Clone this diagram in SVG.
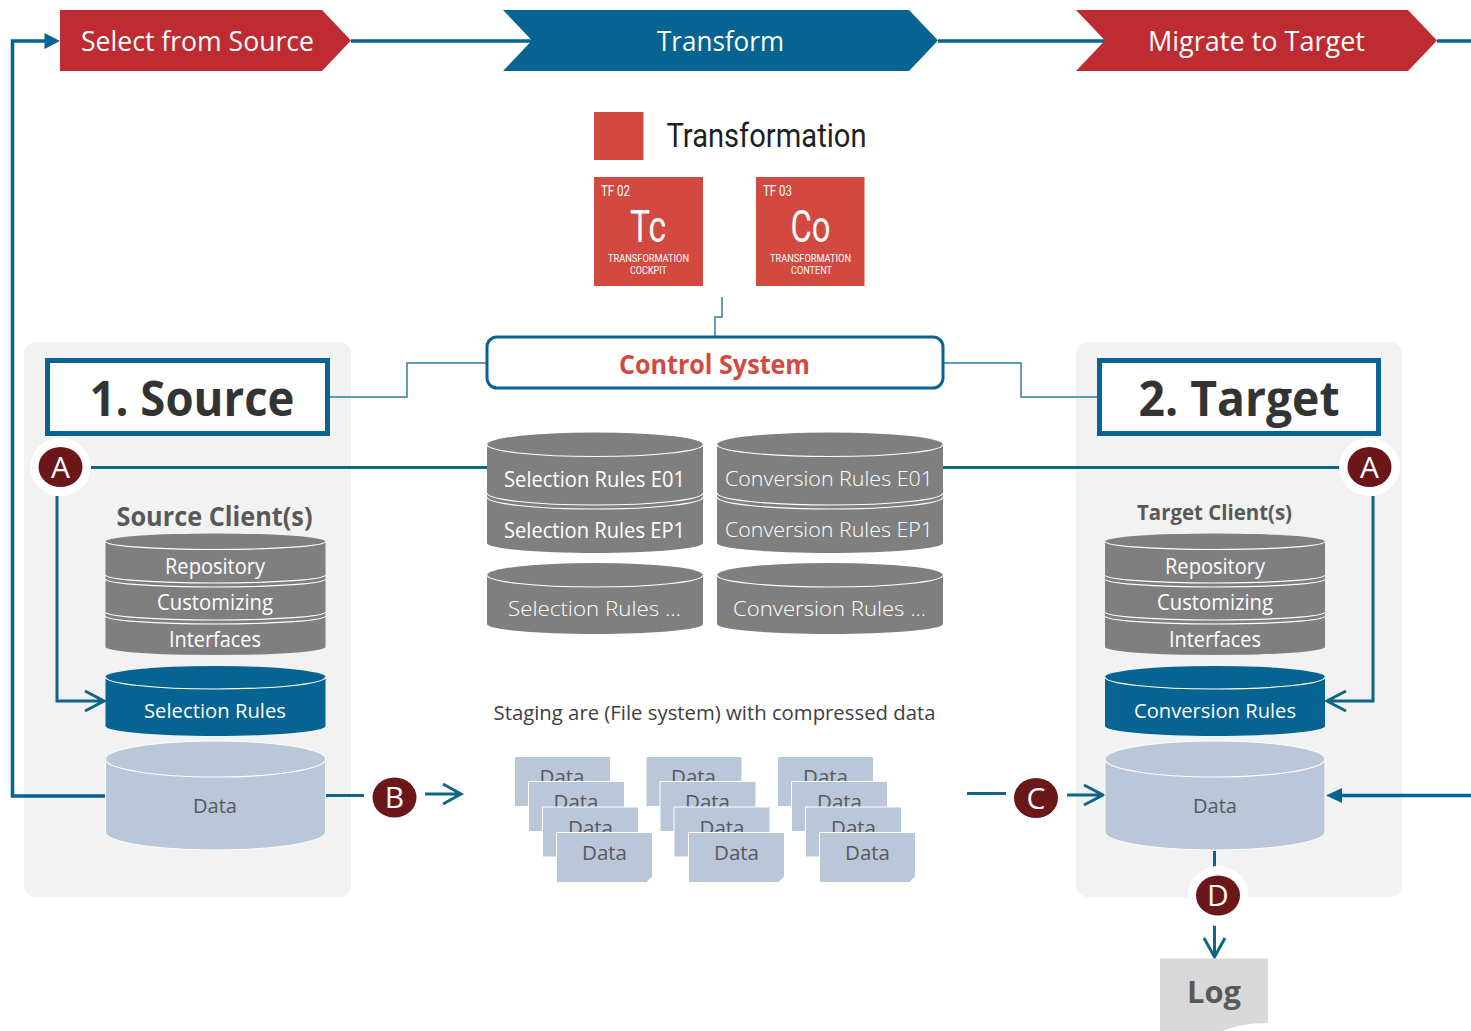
<svg xmlns="http://www.w3.org/2000/svg" width="1471" height="1031" viewBox="0 0 1471 1031">
<style>
text{font-family:"Open Sans","Noto Sans","Liberation Sans",sans-serif;text-anchor:middle}
.cond{font-family:Roboto,"Liberation Sans",sans-serif}
.w{fill:#fff}.g{fill:#595959}.l{font-weight:300}
.red{fill:#BE2B31}.blue{fill:#066392}.tile{fill:#D24A3F}
.grey{fill:#7F7F7F}.dblue{fill:#066392}.pale{fill:#B9C7D9;stroke:#fff;stroke-width:1}
.arc{fill:none;stroke:#fff;stroke-width:1.2}
.panel{fill:#F2F2F2}
.hbox{fill:#fff;stroke:#066392;stroke-width:5}
.c3{fill:none;stroke:#066392;stroke-width:3.500}
.c2{fill:none;stroke:#0E6585;stroke-width:3}
.c1{fill:none;stroke:#2F7FA3;stroke-width:1.500}
.head{fill:#066392;stroke:none}
.halo{fill:#fff}.dot{fill:#6B1619}
.sheet{fill:#B9C7D9;stroke:#fff;stroke-width:1}
.b{font-weight:700}
</style>
<defs>
<path id="sh" d="M-.5 -.5H95.500V43.500L89.500 49.500H-.5Z" class="sheet"/>
</defs>

<g id="panel-source"><rect class="panel" x="24" y="342" width="327" height="555" rx="12"/></g>
<g id="panel-target"><rect class="panel" x="1076" y="342" width="326" height="555" rx="12"/></g>

<g id="connectors">
<path class="c3" d="M351 41H532M938 41H1105M1437 41H1471"/>
<path class="c3" d="M105 796H12.500V41H46"/>
<polygon class="head" points="44.500,33 60,41 44.500,49"/>
<path class="c1" d="M722 297V317H715V337"/>
<path class="c1" d="M330 397H407V363H487M943 363H1021V397H1097"/>
<path class="c2" d="M91 467.500H487M943 467.500H1340"/>
<path class="c2" d="M57 496V701H103M85 691L104 701L85 711"/>
<path class="c2" d="M1373 496V701H1327M1346 691L1327 701L1346 711"/>
<path class="c2" d="M326 795.500H364M425 794H460M443 784L461 794L443 804"/>
<path class="c2" d="M967 793.500H1006M1067 795H1102M1084 785L1103 795L1084 805"/>
<path class="c3" d="M1471 795.500H1340"/>
<polygon class="head" points="1326,795.500 1342,788 1342,803"/>
<path class="c2" d="M1214.500 851V867M1214.500 925V956M1204 938L1214.500 957L1225 938"/>
</g>

<g id="step-select"><polygon class="red" points="60,10 322,10 351,40.500 322,71 60,71"/><text class="w" x="197.500" y="51" font-size="27" textLength="233" lengthAdjust="spacingAndGlyphs">Select from Source</text></g>
<g id="step-transform"><polygon class="blue" points="503,10 909,10 938,40.500 909,71 503,71 532,40.500"/><text class="w" x="720.500" y="51" font-size="27" textLength="127" lengthAdjust="spacingAndGlyphs">Transform</text></g>
<g id="step-migrate"><polygon class="red" points="1076,10 1408,10 1437,40.500 1408,71 1076,71 1105,40.500"/><text class="w" x="1256.500" y="51" font-size="27" textLength="217" lengthAdjust="spacingAndGlyphs">Migrate to Target</text></g>

<g id="transformation-legend"><rect class="tile" x="594" y="112" width="49.500" height="48"/><text class="cond" x="766.500" y="147" font-size="33" fill="#1f1f1f" textLength="200" lengthAdjust="spacingAndGlyphs">Transformation</text></g>
<g id="tile-tc"><rect class="tile" x="594" y="177" width="109" height="109"/>
<text class="cond w" x="615.500" y="196" font-size="14" textLength="29" lengthAdjust="spacingAndGlyphs">TF 02</text>
<text class="cond w" x="648" y="242" font-size="44" textLength="36" lengthAdjust="spacingAndGlyphs">Tc</text>
<text class="cond w" x="648.500" y="262" font-size="11" textLength="81" lengthAdjust="spacingAndGlyphs">TRANSFORMATION</text>
<text class="cond w" x="648.500" y="274" font-size="11" textLength="37" lengthAdjust="spacingAndGlyphs">COCKPIT</text></g>
<g id="tile-co"><rect class="tile" x="756" y="177" width="108.500" height="109"/>
<text class="cond w" x="777.500" y="196" font-size="14" textLength="29" lengthAdjust="spacingAndGlyphs">TF 03</text>
<text class="cond w" x="810.500" y="242" font-size="44" textLength="40" lengthAdjust="spacingAndGlyphs">Co</text>
<text class="cond w" x="810.500" y="262" font-size="11" textLength="81" lengthAdjust="spacingAndGlyphs">TRANSFORMATION</text>
<text class="cond w" x="811.500" y="274" font-size="11" textLength="41" lengthAdjust="spacingAndGlyphs">CONTENT</text></g>

<g id="control-system"><rect x="487" y="337" width="456" height="51" rx="10" fill="#fff" stroke="#066392" stroke-width="3"/><text class="b" x="714.500" y="374" font-size="26" fill="#D24A3F" textLength="191" lengthAdjust="spacingAndGlyphs">Control System</text></g>

<g id="source-title"><rect class="hbox" x="47.500" y="360.500" width="280" height="73"/><text class="b" x="192" y="416" font-size="48" fill="#333" textLength="205" lengthAdjust="spacingAndGlyphs">1. Source</text></g>
<g id="target-title"><rect class="hbox" x="1099.500" y="360.500" width="279" height="73"/><text class="b" x="1239" y="416" font-size="48" fill="#333" textLength="201" lengthAdjust="spacingAndGlyphs">2. Target</text></g>

<g id="badge-a-left"><ellipse class="halo" cx="60.500" cy="467" rx="30.500" ry="29"/><ellipse class="dot" cx="60.500" cy="467" rx="22" ry="20"/><text class="w" x="60.500" y="478" font-size="30">A</text></g>
<g id="badge-a-right"><ellipse class="halo" cx="1369.500" cy="467" rx="30.500" ry="29"/><ellipse class="dot" cx="1369.500" cy="467" rx="22" ry="20"/><text class="w" x="1369.500" y="478" font-size="30">A</text></g>
<g id="badge-b"><ellipse class="dot" cx="394.500" cy="797.500" rx="22" ry="20"/><text class="w" x="394.500" y="808" font-size="30">B</text></g>
<g id="badge-c"><ellipse class="dot" cx="1036" cy="798" rx="22" ry="20"/><text class="w" x="1036" y="809" font-size="30">C</text></g>
<g id="badge-d"><ellipse class="halo" cx="1218" cy="896" rx="30.500" ry="30"/><ellipse class="dot" cx="1218" cy="895.500" rx="22" ry="20"/><text class="w" x="1218" y="906" font-size="30">D</text></g>

<g id="source-clients"><text class="b g" x="214.500" y="526" font-size="26" textLength="196" lengthAdjust="spacingAndGlyphs">Source Client(s)</text>
<path class="grey" d="M105.500 541.500A110 8 0 0 1 325.500 541.500V647A110 8 0 0 1 105.500 647Z"/>
<path class="arc" d="M105.500 541.500A110 8 0 0 0 325.500 541.500M105.500 575A110 8 0 0 0 325.500 575M105.500 579A110 8 0 0 0 325.500 579M105.500 612A110 8 0 0 0 325.500 612M105.500 616A110 8 0 0 0 325.500 616"/>
<text class="w" x="215" y="574" font-size="21.500" textLength="100" lengthAdjust="spacingAndGlyphs">Repository</text>
<text class="w" x="215" y="610" font-size="21.500" textLength="116" lengthAdjust="spacingAndGlyphs">Customizing</text>
<text class="w" x="215" y="647" font-size="21.500" textLength="92" lengthAdjust="spacingAndGlyphs">Interfaces</text></g>
<g id="target-clients"><text class="b g" x="1214.500" y="520" font-size="21.500" textLength="155" lengthAdjust="spacingAndGlyphs">Target Client(s)</text>
<path class="grey" d="M1105 541.500A110 8 0 0 1 1325 541.500V647A110 8 0 0 1 1105 647Z"/>
<path class="arc" d="M1105 541.500A110 8 0 0 0 1325 541.500M1105 575A110 8 0 0 0 1325 575M1105 579A110 8 0 0 0 1325 579M1105 612A110 8 0 0 0 1325 612M1105 616A110 8 0 0 0 1325 616"/>
<text class="w" x="1215" y="574" font-size="21.500" textLength="100" lengthAdjust="spacingAndGlyphs">Repository</text>
<text class="w" x="1215" y="610" font-size="21.500" textLength="116" lengthAdjust="spacingAndGlyphs">Customizing</text>
<text class="w" x="1215" y="647" font-size="21.500" textLength="92" lengthAdjust="spacingAndGlyphs">Interfaces</text></g>

<g id="source-selection-rules"><path class="dblue" d="M105.500 677A110 11 0 0 1 325.500 677V726A110 10 0 0 1 105.500 726Z"/><path class="arc" d="M105.500 677A110 12 0 0 0 325.500 677"/><text class="w" x="215" y="718" font-size="20.500" textLength="142" lengthAdjust="spacingAndGlyphs">Selection Rules</text></g>
<g id="target-conversion-rules"><path class="dblue" d="M1105 677A110 11 0 0 1 1325 677V726A110 10 0 0 1 1105 726Z"/><path class="arc" d="M1105 677A110 12 0 0 0 1325 677"/><text class="w" x="1215" y="718" font-size="20.500" textLength="162" lengthAdjust="spacingAndGlyphs">Conversion Rules</text></g>
<g id="source-data"><path class="pale" d="M105.500 759A110 18 0 0 1 325.500 759V832A110 18 0 0 1 105.500 832Z"/><path class="arc" d="M105.500 759A110 18 0 0 0 325.500 759"/><text class="g" x="215" y="813" font-size="20.500" textLength="44" lengthAdjust="spacingAndGlyphs">Data</text></g>
<g id="target-data"><path class="pale" d="M1105 759A110 18 0 0 1 1325 759V832A110 18 0 0 1 1105 832Z"/><path class="arc" d="M1105 759A110 18 0 0 0 1325 759"/><text class="g" x="1215" y="813" font-size="20.500" textLength="44" lengthAdjust="spacingAndGlyphs">Data</text></g>

<g id="rules-selection-e01-ep1"><path class="grey" d="M487 444.500A108 12 0 0 1 703 444.500V543A108 10 0 0 1 487 543Z"/><path class="arc" d="M487 444.500A108 12 0 0 0 703 444.500M487 493A108 12 0 0 0 703 493M487 497A108 12 0 0 0 703 497"/>
<text class="w" x="594.500" y="486.500" font-size="21" textLength="181" lengthAdjust="spacingAndGlyphs">Selection Rules E01</text>
<text class="w" x="594.500" y="537.500" font-size="21" textLength="181" lengthAdjust="spacingAndGlyphs">Selection Rules EP1</text></g>
<g id="rules-conversion-e01-ep1"><path class="grey" d="M717 444.500A113 12 0 0 1 943 444.500V543A113 10 0 0 1 717 543Z"/><path class="arc" d="M717 444.500A113 12 0 0 0 943 444.500M717 493A113 12 0 0 0 943 493M717 497A113 12 0 0 0 943 497"/>
<text class="w l" x="829" y="486" font-size="21" textLength="208" lengthAdjust="spacingAndGlyphs">Conversion Rules E01</text>
<text class="w l" x="829" y="537" font-size="21" textLength="208" lengthAdjust="spacingAndGlyphs">Conversion Rules EP1</text></g>
<g id="rules-selection-more"><path class="grey" d="M487 575A108 12 0 0 1 703 575V624A108 10 0 0 1 487 624Z"/><path class="arc" d="M487 575A108 12 0 0 0 703 575"/><text class="w l" x="594.500" y="616" font-size="21" textLength="173" lengthAdjust="spacingAndGlyphs">Selection Rules …</text></g>
<g id="rules-conversion-more"><path class="grey" d="M717 575A113 12 0 0 1 943 575V624A113 10 0 0 1 717 624Z"/><path class="arc" d="M717 575A113 12 0 0 0 943 575"/><text class="w l" x="829.500" y="616" font-size="21" textLength="193" lengthAdjust="spacingAndGlyphs">Conversion Rules …</text></g>

<g id="staging-label"><text x="714.500" y="720" font-size="20" fill="#404040" textLength="442" lengthAdjust="spacingAndGlyphs">Staging are (File system) with compressed data</text></g>

<g id="staging-col-1">
<use href="#sh" x="515" y="757"/><text class="g" x="562" y="784" font-size="20.500">Data</text>
<use href="#sh" x="529" y="782"/><text class="g" x="576" y="809" font-size="20.500">Data</text>
<use href="#sh" x="543" y="807.500"/><text class="g" x="590.500" y="834.500" font-size="20.500">Data</text>
<use href="#sh" x="557" y="833"/><text class="g" x="604.500" y="860" font-size="20.500">Data</text></g>
<g id="staging-col-2">
<use href="#sh" x="646.500" y="757"/><text class="g" x="693.500" y="784" font-size="20.500">Data</text>
<use href="#sh" x="660.500" y="782"/><text class="g" x="707.500" y="809" font-size="20.500">Data</text>
<use href="#sh" x="674.500" y="807.500"/><text class="g" x="722" y="834.500" font-size="20.500">Data</text>
<use href="#sh" x="689" y="833"/><text class="g" x="736.500" y="860" font-size="20.500">Data</text></g>
<g id="staging-col-3">
<use href="#sh" x="778" y="757"/><text class="g" x="825.500" y="784" font-size="20.500">Data</text>
<use href="#sh" x="792" y="782"/><text class="g" x="839.500" y="809" font-size="20.500">Data</text>
<use href="#sh" x="806" y="807.500"/><text class="g" x="853.500" y="834.500" font-size="20.500">Data</text>
<use href="#sh" x="820" y="833"/><text class="g" x="867.500" y="860" font-size="20.500">Data</text></g>

<g id="log"><path fill="#D9D9D9" d="M1160 958.500H1268V1023C1248 1023 1235 1026 1223 1031H1160Z"/><text class="b g" x="1214" y="1003" font-size="31" textLength="54" lengthAdjust="spacingAndGlyphs">Log</text></g>
</svg>
